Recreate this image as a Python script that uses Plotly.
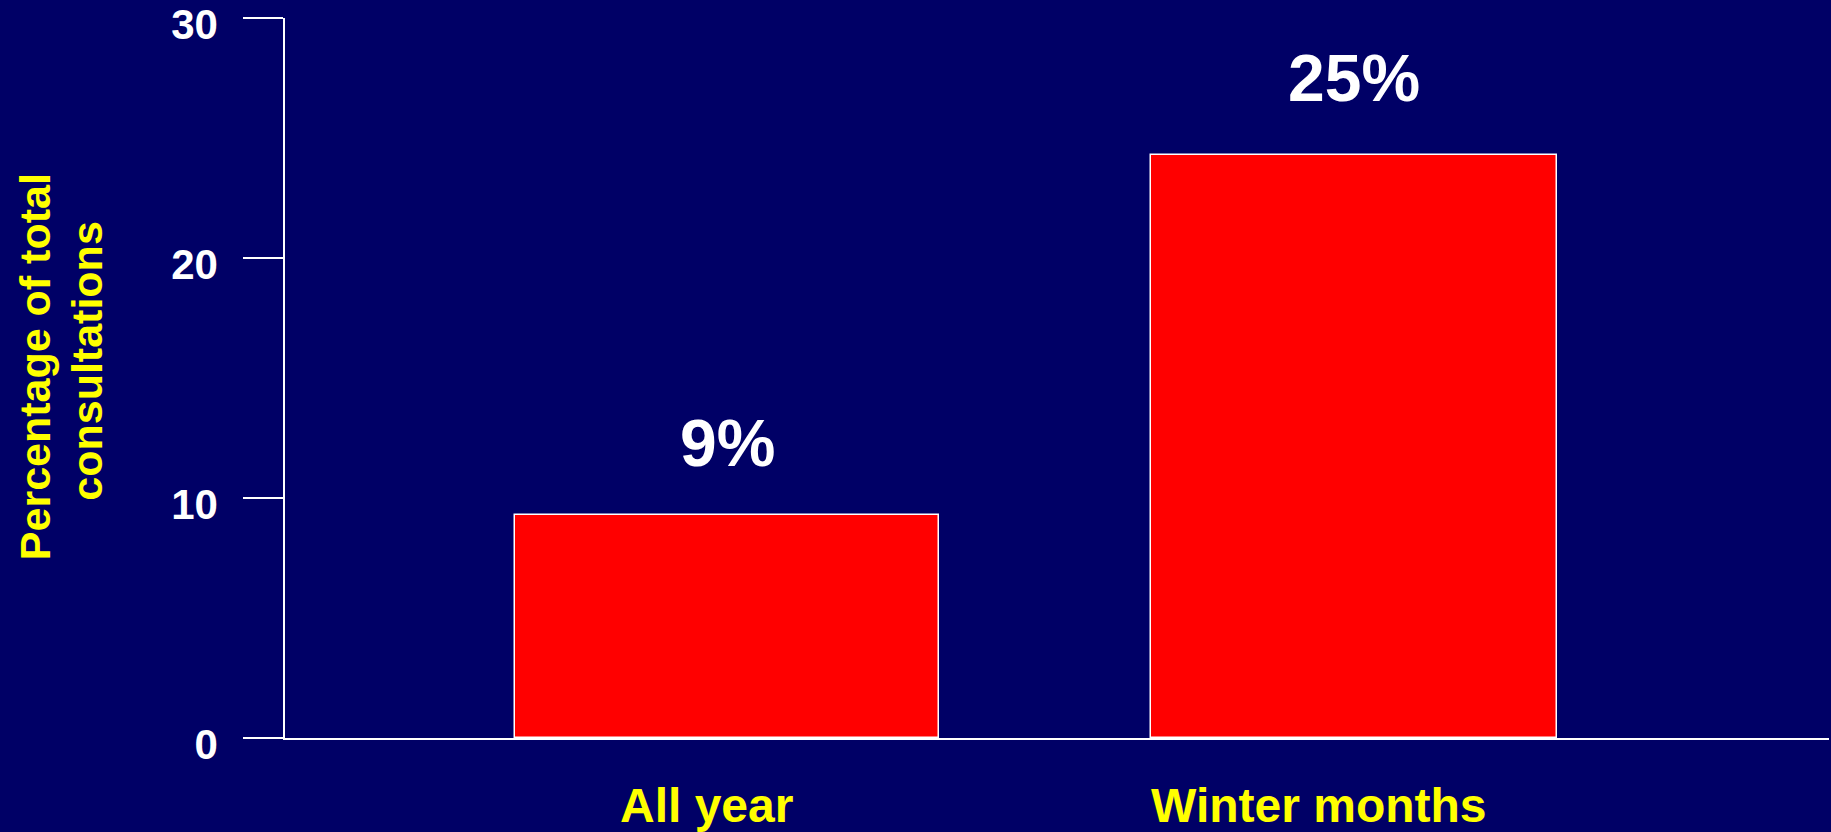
import plotly.graph_objects as go

categories = ["All year", "Winter months"]
values = [9.3, 24.3]
value_labels = ["9%", "25%"]
y_ticks = [0, 10, 20, 30]
y_title_lines = ["Percentage of total", "consultations"]

BG = "#000066"
FONT = "Liberation Sans, Arial, sans-serif"

fig = go.Figure()
fig.add_trace(go.Bar(
    x=categories, y=values,
    width=[0.6776, 0.6479],
    marker=dict(color="#FF0000", line=dict(color="white", width=1.5)),
    hoverinfo="skip",
))

# value labels
for cat, v, lab, dy in zip(categories, values, value_labels, [72, 77]):
    fig.add_annotation(x=cat, y=v, xref="x", yref="y", text=lab, showarrow=False,
                       yshift=dy, xanchor="center", yanchor="middle",
                       font=dict(family=FONT, size=66, color="white", weight="bold"))

# category labels
for cat, dx in zip(categories, [-21, -35]):
    fig.add_annotation(x=cat, y=0, xref="x", yref="paper", text=cat, showarrow=False,
                       xshift=dx, yshift=-67, xanchor="center", yanchor="middle",
                       font=dict(family=FONT, size=48, color="#FFFF00", weight="bold"))

# y title (two lines)
for line, px, yc in zip(y_title_lines, [35, 87], [0.515, 0.524]):
    fig.add_annotation(x=(px - 285) / 1544, y=yc, xref="paper", yref="paper", text=line,
                       showarrow=False, textangle=-90, xanchor="center", yanchor="middle",
                       font=dict(family=FONT, size=43, color="#FFFF00", weight="bold"))

fig.update_layout(
    width=1831, height=832,
    paper_bgcolor=BG, plot_bgcolor=BG,
    margin=dict(l=285, r=2, t=18, b=94, autoexpand=False),
    showlegend=False,
    bargap=0,
)
fig.update_xaxes(range=[-0.7054, 1.7584], showticklabels=False, ticks="",
                 showline=True, linecolor="white", linewidth=1.5, showgrid=False,
                 zeroline=False, automargin=False)
fig.update_yaxes(range=[0, 30], tickvals=y_ticks, ticks="outside", ticklen=40,
                 tickcolor="white", tickwidth=1.5, showline=True, linecolor="white",
                 linewidth=1.5, showgrid=False, zeroline=False, ticklabelstandoff=17,
                 ticklabeloverflow="allow", automargin=False, ticklabelshift=6,
                 tickfont=dict(family=FONT, size=42, color="white", weight="bold"))
fig.write_html("out.html")
